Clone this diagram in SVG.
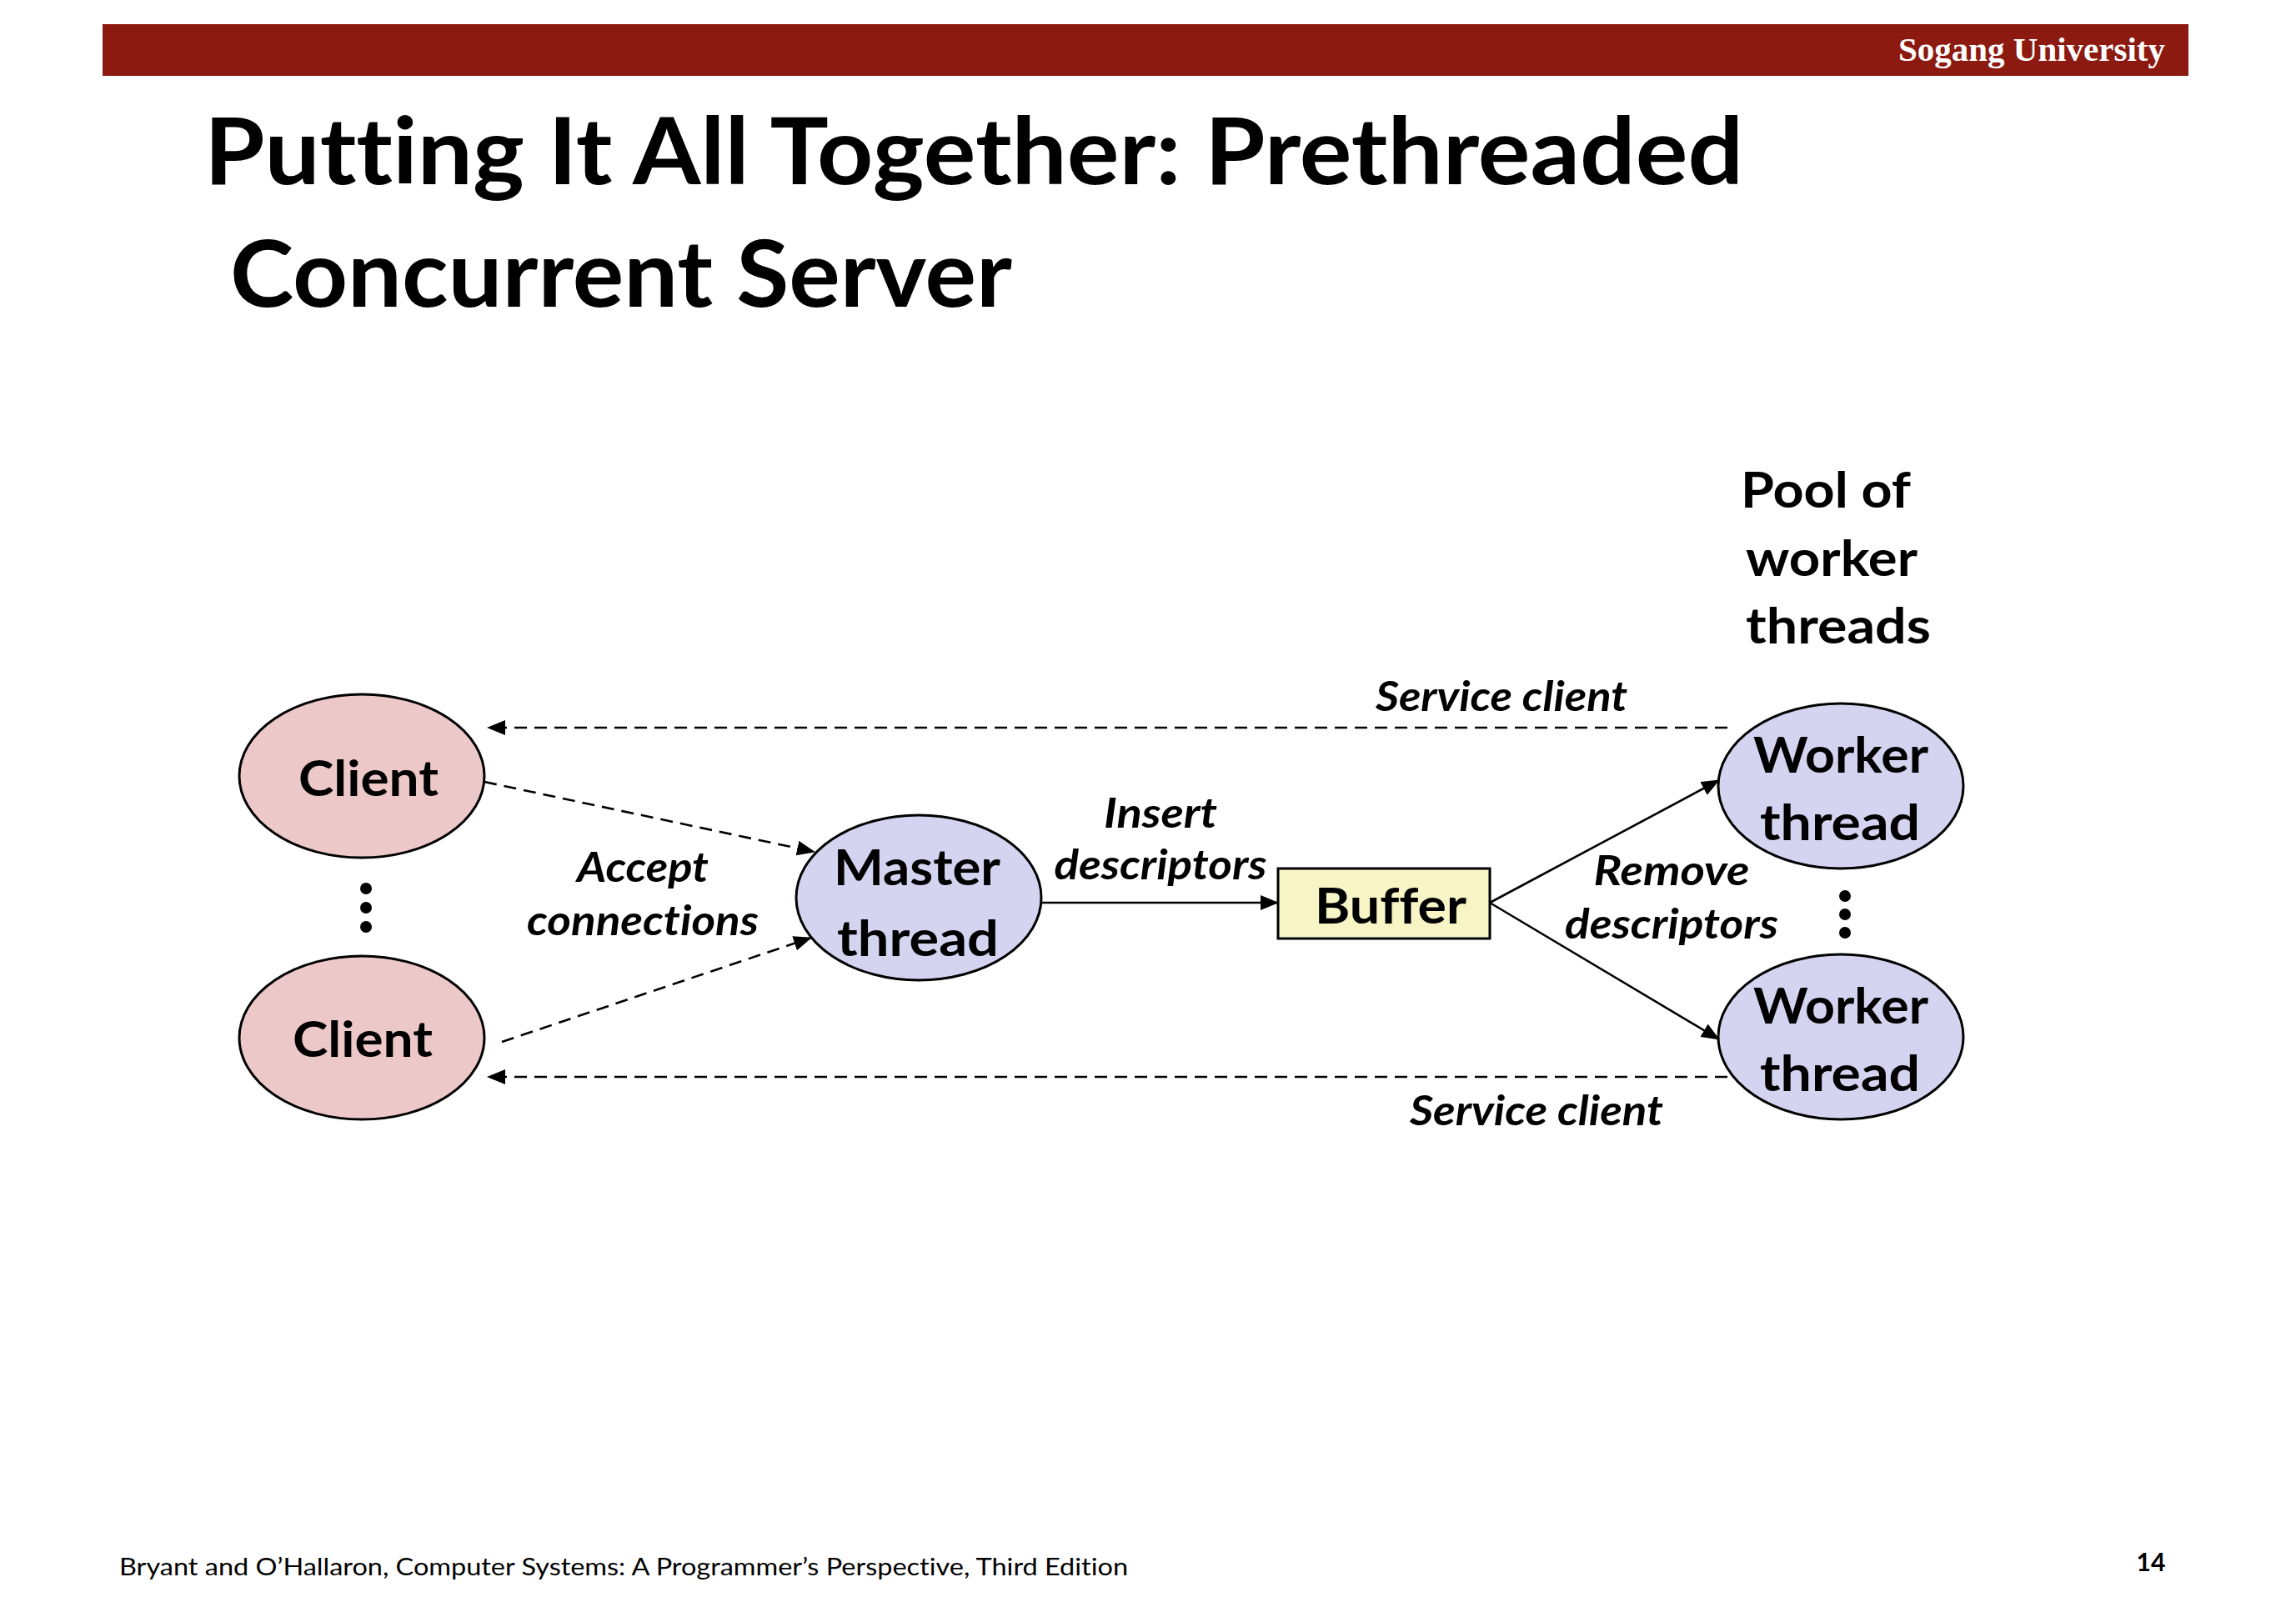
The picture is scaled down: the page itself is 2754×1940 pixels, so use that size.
<svg xmlns="http://www.w3.org/2000/svg" width="2754" height="1940" viewBox="0 0 2754 1940">
  <style>
    .sans { font-family: Lato, "Open Sans", "DejaVu Sans", sans-serif; font-variant-ligatures: none; font-feature-settings: "liga" 0, "clig" 0; }
    .title { font-size: 112px; font-weight: 700; fill: #000; }
    .nlabel { font-size: 60px; font-weight: 700; fill: #000; text-anchor: middle; }
    .elabel { font-size: 50px; font-weight: 700; font-style: italic; fill: #000; text-anchor: middle; }
    .shape { stroke: #000; stroke-width: 3; }
    .client { fill: #EDC8C8; }
    .thread { fill: #D4D4F1; }
    .buffer { fill: #F7F5C6; }
    .edge { stroke: #000; stroke-width: 2.6; fill: none; }
    .dashed { stroke-dasharray: 15 9; }
    .dot { fill: #000; }
  </style>
  <defs>
    <marker id="arrow" markerUnits="userSpaceOnUse" markerWidth="22" markerHeight="18" refX="21" refY="9" orient="auto">
      <path d="M0,0 L22,9 L0,18 Z" fill="#000"/>
    </marker>
  </defs>

  <rect width="2754" height="1940" fill="#fff"/>

  <!-- header band -->
  <g id="header">
    <rect x="123" y="29" width="2502" height="62" fill="#8C1A11"/>
    <text x="2597" y="73" font-family="'Liberation Serif', 'Times New Roman', serif" font-weight="700" font-size="41" fill="#fff" text-anchor="end">Sogang University</text>
  </g>

  <!-- slide title -->
  <g id="title" class="sans">
    <text class="title" x="245" y="221" textLength="1846" lengthAdjust="spacingAndGlyphs">Putting It All Together: Prethreaded</text>
    <text class="title" x="276" y="368" textLength="938" lengthAdjust="spacingAndGlyphs">Concurrent Server</text>
  </g>

  <!-- connectors -->
  <g id="connectors">
    <line class="edge dashed" x1="2072" y1="873" x2="585" y2="873" marker-end="url(#arrow)"/>
    <line class="edge dashed" x1="2072" y1="1292" x2="585" y2="1292" marker-end="url(#arrow)"/>
    <line class="edge dashed" x1="581" y1="938" x2="977" y2="1022" marker-end="url(#arrow)"/>
    <line class="edge dashed" x1="602" y1="1250" x2="973" y2="1125" marker-end="url(#arrow)"/>
    <line class="edge" x1="1250" y1="1083" x2="1533" y2="1083" marker-end="url(#arrow)"/>
    <line class="edge" x1="1787" y1="1083" x2="2062" y2="936" marker-end="url(#arrow)"/>
    <line class="edge" x1="1787" y1="1083" x2="2062" y2="1247" marker-end="url(#arrow)"/>
  </g>

  <!-- edge labels -->
  <g id="edge-labels" class="sans">
    <text class="elabel" x="1801" y="853" textLength="302" lengthAdjust="spacingAndGlyphs">Service client</text>
    <text class="elabel" x="1843" y="1350" textLength="304" lengthAdjust="spacingAndGlyphs">Service client</text>
    <text class="elabel" x="771" y="1058" textLength="158" lengthAdjust="spacingAndGlyphs">Accept</text>
    <text class="elabel" x="771" y="1122" textLength="278" lengthAdjust="spacingAndGlyphs">connections</text>
    <text class="elabel" x="1392" y="993" textLength="136" lengthAdjust="spacingAndGlyphs">Insert</text>
    <text class="elabel" x="1392" y="1055" textLength="255" lengthAdjust="spacingAndGlyphs">descriptors</text>
    <text class="elabel" x="2005" y="1062" textLength="187" lengthAdjust="spacingAndGlyphs">Remove</text>
    <text class="elabel" x="2005" y="1126" textLength="256" lengthAdjust="spacingAndGlyphs">descriptors</text>
  </g>

  <!-- clients -->
  <g id="client-1" class="sans">
    <ellipse class="shape client" cx="434" cy="931" rx="147" ry="98"/>
    <text class="nlabel" x="442" y="955" textLength="168" lengthAdjust="spacingAndGlyphs">Client</text>
  </g>
  <g id="client-dots">
    <circle class="dot" cx="439" cy="1066" r="7"/>
    <circle class="dot" cx="439" cy="1089" r="7"/>
    <circle class="dot" cx="439" cy="1112" r="7"/>
  </g>
  <g id="client-2" class="sans">
    <ellipse class="shape client" cx="434" cy="1245" rx="147" ry="98"/>
    <text class="nlabel" x="435" y="1268" textLength="168" lengthAdjust="spacingAndGlyphs">Client</text>
  </g>

  <!-- master thread -->
  <g id="master" class="sans">
    <ellipse class="shape thread" cx="1102" cy="1077" rx="147" ry="99"/>
    <text class="nlabel" x="1100" y="1062" textLength="200" lengthAdjust="spacingAndGlyphs">Master</text>
    <text class="nlabel" x="1101" y="1147" textLength="194" lengthAdjust="spacingAndGlyphs">thread</text>
  </g>

  <!-- buffer -->
  <g id="buffer" class="sans">
    <rect class="shape buffer" x="1533" y="1042" width="254" height="84"/>
    <text class="nlabel" x="1668" y="1108" textLength="182" lengthAdjust="spacingAndGlyphs">Buffer</text>
  </g>

  <!-- worker pool -->
  <g id="pool-label" class="sans">
    <text class="nlabel" x="2088" y="609" style="text-anchor:start" textLength="204" lengthAdjust="spacingAndGlyphs">Pool of</text>
    <text class="nlabel" x="2094" y="691" style="text-anchor:start" textLength="206" lengthAdjust="spacingAndGlyphs">worker</text>
    <text class="nlabel" x="2094" y="772" style="text-anchor:start" textLength="222" lengthAdjust="spacingAndGlyphs">threads</text>
  </g>
  <g id="worker-1" class="sans">
    <ellipse class="shape thread" cx="2208" cy="943" rx="147" ry="99"/>
    <text class="nlabel" x="2208" y="927" textLength="210" lengthAdjust="spacingAndGlyphs">Worker</text>
    <text class="nlabel" x="2207" y="1008" textLength="192" lengthAdjust="spacingAndGlyphs">thread</text>
  </g>
  <g id="worker-dots">
    <circle class="dot" cx="2213" cy="1075" r="7"/>
    <circle class="dot" cx="2213" cy="1097" r="7"/>
    <circle class="dot" cx="2213" cy="1119" r="7"/>
  </g>
  <g id="worker-2" class="sans">
    <ellipse class="shape thread" cx="2208" cy="1244" rx="147" ry="99"/>
    <text class="nlabel" x="2208" y="1228" textLength="210" lengthAdjust="spacingAndGlyphs">Worker</text>
    <text class="nlabel" x="2207" y="1309" textLength="192" lengthAdjust="spacingAndGlyphs">thread</text>
  </g>

  <!-- footer -->
  <g id="footer" class="sans">
    <text x="143" y="1890" font-size="29" fill="#000" textLength="1210" lengthAdjust="spacingAndGlyphs">Bryant and O’Hallaron, Computer Systems: A Programmer’s Perspective, Third Edition</text>
    <text x="2580" y="1885" font-size="30" font-weight="700" fill="#000" text-anchor="middle">14</text>
  </g>
</svg>
